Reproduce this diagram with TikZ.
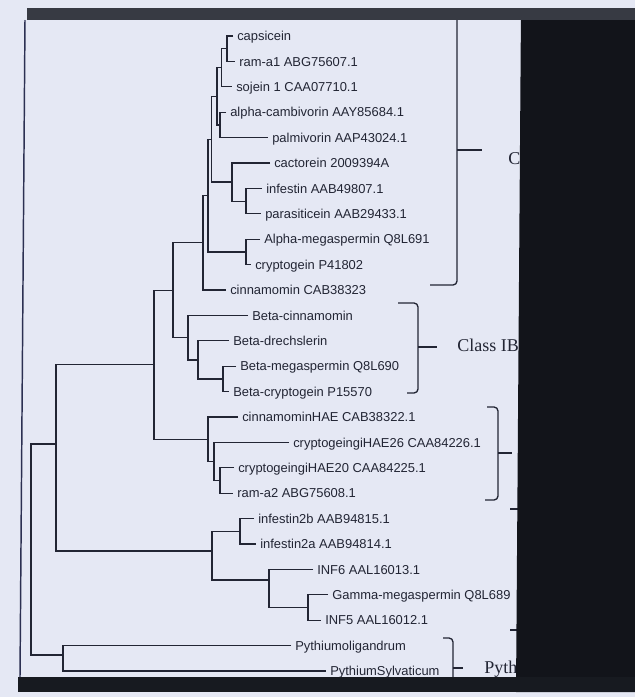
\documentclass[tikz,border=0pt]{standalone}
\usepackage{fontspec}
\setmainfont{Liberation Serif}
\setsansfont{Liberation Sans}
\usetikzlibrary{positioning}
\definecolor{papercolor}{RGB}{229,232,244}
\definecolor{inkcolor}{RGB}{34,37,52}
\definecolor{barcolor}{RGB}{55,58,67}
\definecolor{darkcolor}{RGB}{18,20,26}
\definecolor{rulecolor}{RGB}{44,48,82}

\begin{document}
\begin{tikzpicture}[
  x=0.75pt, y=-0.75pt,
  % --- Styles ---
  leaf/.style={
    anchor=west, inner xsep=3pt, inner ysep=0pt,
    text height=7pt, text depth=0pt,
    font=\sffamily\fontsize{9.7}{11}\selectfont, text=inkcolor},
  branch/.style={draw=inkcolor, line width=0.9pt},
  bracket/.style={draw=inkcolor, line width=1pt, rounded corners=3pt},
  classlbl/.style={
    anchor=west, inner sep=0pt,
    font=\rmfamily\fontsize{13.5}{15}\selectfont, text=inkcolor},
]
\useasboundingbox[fill=papercolor] (0,0) rectangle (635,697);

% === LEAVES ===
% Class IA
\node[leaf] (capsicein)    at (233,36)    {capsicein};
\node[leaf] (rama1)        at (235,61.4)  {ram-a1 ABG75607.1};
\node[leaf] (sojein)       at (232,86.8)  {sojein 1 CAA07710.1};
\node[leaf] (cambivorin)   at (226,112.2) {alpha-cambivorin AAY85684.1};
\node[leaf] (palmivorin)   at (268,137.6) {palmivorin AAP43024.1};
\node[leaf] (cactorein)    at (270,163)   {cactorein 2009394A};
\node[leaf] (infestin)     at (262,188.4) {infestin AAB49807.1};
\node[leaf] (parasiticein) at (261,213.8) {parasiticein AAB29433.1};
\node[leaf] (amegaspermin) at (260,239.2) {Alpha-megaspermin Q8L691};
\node[leaf] (cryptogein)   at (251,264.6) {cryptogein P41802};
\node[leaf] (cinnamomin)   at (226,290)   {cinnamomin CAB38323};
% Class IB
\node[leaf] (bcinnamomin)  at (248,315.4) {Beta-cinnamomin};
\node[leaf] (bdrechslerin) at (229,340.8) {Beta-drechslerin};
\node[leaf] (bmegaspermin) at (236,366.2) {Beta-megaspermin Q8L690};
\node[leaf] (bcryptogein)  at (229,391.6) {Beta-cryptogein P15570};
% HAE group
\node[leaf] (cinnhae)      at (238,417)   {cinnamominHAE CAB38322.1};
\node[leaf] (hae26)        at (289,442.4) {cryptogeingiHAE26 CAA84226.1};
\node[leaf] (hae20)        at (234,467.8) {cryptogeingiHAE20 CAA84225.1};
\node[leaf] (rama2)        at (233,493.2) {ram-a2 ABG75608.1};
% infestin2 / INF group
\node[leaf] (infestinb)    at (254,518.6) {infestin2b AAB94815.1};
\node[leaf] (infestina)    at (256,544)   {infestin2a AAB94814.1};
\node[leaf] (inf6)         at (313,569.4) {INF6 AAL16013.1};
\node[leaf] (gmegaspermin) at (328,594.8) {Gamma-megaspermin Q8L689};
\node[leaf] (inf5)         at (321,620.2) {INF5 AAL16012.1};
% Pythium
\node[leaf] (oligandrum)   at (291,645.6) {Pythiumoligandrum};
\node[leaf] (sylvaticum)   at (326,671)   {PythiumSylvaticum};

% === INNER NODES ===
\coordinate (n1)  at (227,48.7);
\coordinate (n2)  at (221.5,67.8);
\coordinate (n3)  at (220,124.9);
\coordinate (n4)  at (217,96.3);
\coordinate (n5)  at (246,201.1);
\coordinate (n6)  at (232,182);
\coordinate (n7)  at (211.5,139.2);
\coordinate (n8)  at (246,251.9);
\coordinate (n9)  at (208,195.5);
\coordinate (n10) at (203,242.8);
\coordinate (m1)  at (223,378.9);
\coordinate (m2)  at (198,359.9);
\coordinate (m3)  at (188,337.6);
\coordinate (n11) at (173,290.2);
\coordinate (h1)  at (220,480.5);
\coordinate (h2)  at (214,461.5);
\coordinate (h3)  at (208,439.2);
\coordinate (n12) at (154,364.7);
\coordinate (g1)  at (240,531.3);
\coordinate (g2)  at (308,607.5);
\coordinate (g3)  at (269,580);
\coordinate (g4)  at (212,551);
\coordinate (n13) at (56,444);
\coordinate (p1)  at (63,655);
\coordinate (root) at (31,550);

% === BRANCHES ===
\draw[branch] (capsicein.west) -| (n1) |- (rama1.west);
\draw[branch] (n1) -| (n2) |- (sojein.west);
\draw[branch] (cambivorin.west) -| (n3) |- (palmivorin.west);
\draw[branch] (n2) -| (n4) |- (n3);
\draw[branch] (infestin.west) -| (n5) |- (parasiticein.west);
\draw[branch] (cactorein.west) -| (n6) |- (n5);
\draw[branch] (n4) -| (n7) |- (n6);
\draw[branch] (amegaspermin.west) -| (n8) |- (cryptogein.west);
\draw[branch] (n7) -| (n9) |- (n8);
\draw[branch] (n9) -| (n10) |- (cinnamomin.west);
\draw[branch] (bmegaspermin.west) -| (m1) |- (bcryptogein.west);
\draw[branch] (bdrechslerin.west) -| (m2) |- (m1);
\draw[branch] (bcinnamomin.west) -| (m3) |- (m2);
\draw[branch] (n10) -| (n11) |- (m3);
\draw[branch] (hae20.west) -| (h1) |- (rama2.west);
\draw[branch] (hae26.west) -| (h2) |- (h1);
\draw[branch] (cinnhae.west) -| (h3) |- (h2);
\draw[branch] (n11) -| (n12) |- (h3);
\draw[branch] (infestinb.west) -| (g1) |- (infestina.west);
\draw[branch] (gmegaspermin.west) -| (g2) |- (inf5.west);
\draw[branch] (inf6.west) -| (g3) |- (g2);
\draw[branch] (g1) -| (g4) |- (g3);
\draw[branch] (n12) -| (n13) |- (g4);
\draw[branch] (oligandrum.west) -| (p1) |- (sylvaticum.west);
\draw[branch] (n13) -| (root) |- (p1);

% === BRACKETS ===
\draw[bracket] (430,285) -| (457,14);
\draw[bracket] (457,150) -- (482,150);
\draw[bracket] (398,303) -| (418,393) -- (407,393);
\draw[bracket] (418,347) -- (437,347);
\draw[bracket] (487,407) -| (498,500) -- (485,500);
\draw[bracket] (498,453) -- (512,453);
\draw[bracket] (510,509) -- (522,509);
\draw[bracket] (510,630) -- (522,630);
\draw[bracket] (443,638) -| (453,690);
\draw[bracket] (453,668) -- (463,668);

\node[classlbl] (classia) at (508,158) {Cl};
\node[classlbl] (classib) at (457,345) {Class IB};
\node[classlbl] (pythium) at (484,669) {Pyth};

% === SCAN EDGES ===
\fill[darkcolor] (521,8) -- (635,8) -- (635,692) -- (516,692) -- cycle;
\fill[barcolor] (27,8) rectangle (635,20);
\fill[darkcolor!85!barcolor] (18,677) rectangle (635,692);
\draw[rulecolor, line width=1.1pt] (25,20) -- (20,677);
\end{tikzpicture}
\end{document}
